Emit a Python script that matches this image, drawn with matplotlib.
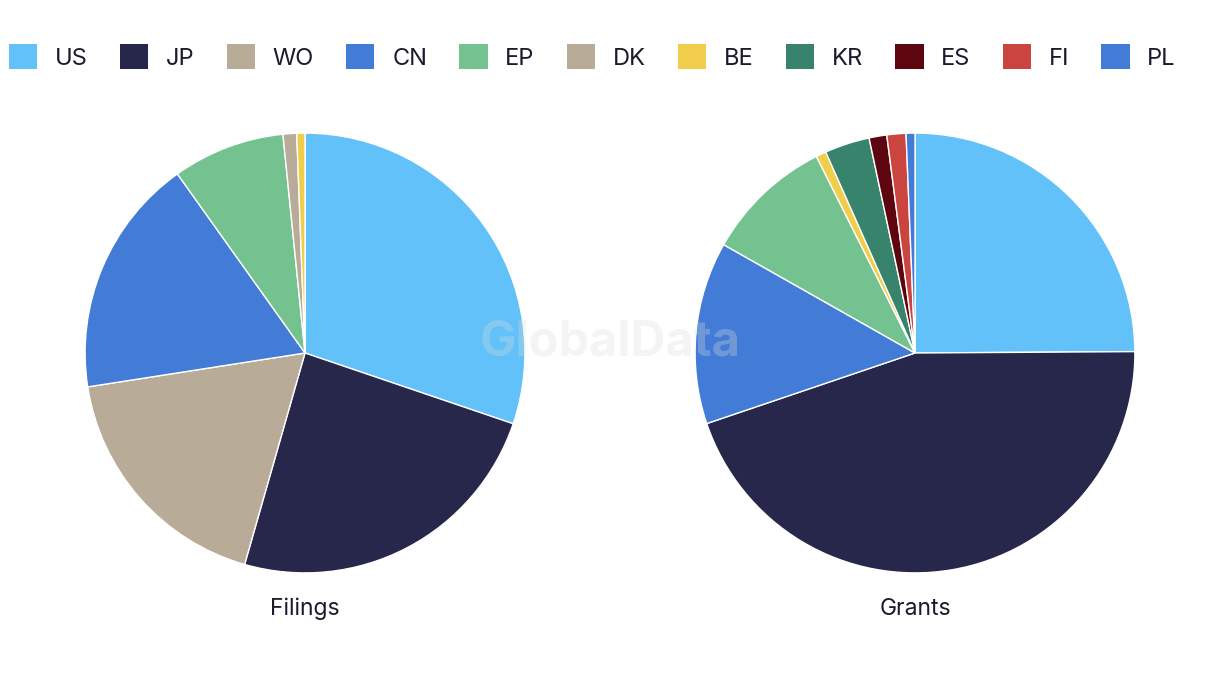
import matplotlib.pyplot as plt
from matplotlib.patches import Patch

plt.rcParams['font.family'] = ['Inter', 'DejaVu Sans']

# shares (%)
filing_labels = ["US", "JP", "WO", "CN", "EP", "DK", "BE"]
filing_values = [30.2, 24.2, 18.1, 17.6, 8.25, 1.0, 0.6]

grant_labels = ["US", "JP", "CN", "EP", "BE", "KR", "ES", "FI", "PL"]
grant_values = [24.9, 44.9, 13.4, 9.4, 0.75, 3.3, 1.3, 1.4, 0.65]

legend_labels = ["US", "JP", "WO", "CN", "EP", "DK", "BE", "KR", "ES", "FI", "PL"]
colors = {
    "US": "#62C1F9", "JP": "#27274B", "WO": "#B8AB98", "CN": "#427CD6",
    "EP": "#73C28F", "DK": "#B8AB98", "BE": "#F0CD4A", "KR": "#38836B",
    "ES": "#5E0610", "FI": "#CB4540", "PL": "#427CD6",
}

W, H = 1220, 686
fig = plt.figure(figsize=(W / 100, H / 100), dpi=100)

def pie_axes(cx, cy, r):
    ax = fig.add_axes([(cx - r) / W, (H - cy - r) / H, 2 * r / W, 2 * r / H])
    return ax

for cx, labels, values, title in [(305, filing_labels, filing_values, "Filings"),
                                  (915, grant_labels, grant_values, "Grants")]:
    ax = pie_axes(cx, 353, 221)
    ax.pie(values, colors=[colors[l] for l in labels], startangle=90, counterclock=False,
           radius=1, wedgeprops=dict(edgecolor="white", linewidth=1))
    ax.set_xlim(-1.005, 1.005)
    ax.set_ylim(-1.005, 1.005)
    ax.set_aspect("equal")
    ax.axis("off")
    fig.text(cx / W, 1 - 609 / H, title, ha="center", va="center", fontsize=16.5, color="#1b1b2b")

handles = [Patch(facecolor=colors[l], edgecolor="none", label=l) for l in legend_labels]
fig.legend(handles=handles, loc="center left", bbox_to_anchor=(9 / W, 1 - 57 / H), ncol=len(handles),
           frameon=False, fontsize=17, handlelength=1.2, handleheight=1.2, handletextpad=0.75,
           columnspacing=1.36, borderpad=0, borderaxespad=0, labelcolor="#1b1b2b")

fig.text(610 / W, 1 - 343 / H, "GlobalData", ha="center", va="center", fontsize=35,
         fontweight="bold", color="#dcdcdc", alpha=0.3, zorder=10)

fig.savefig("out.png", dpi=100, facecolor="white")
